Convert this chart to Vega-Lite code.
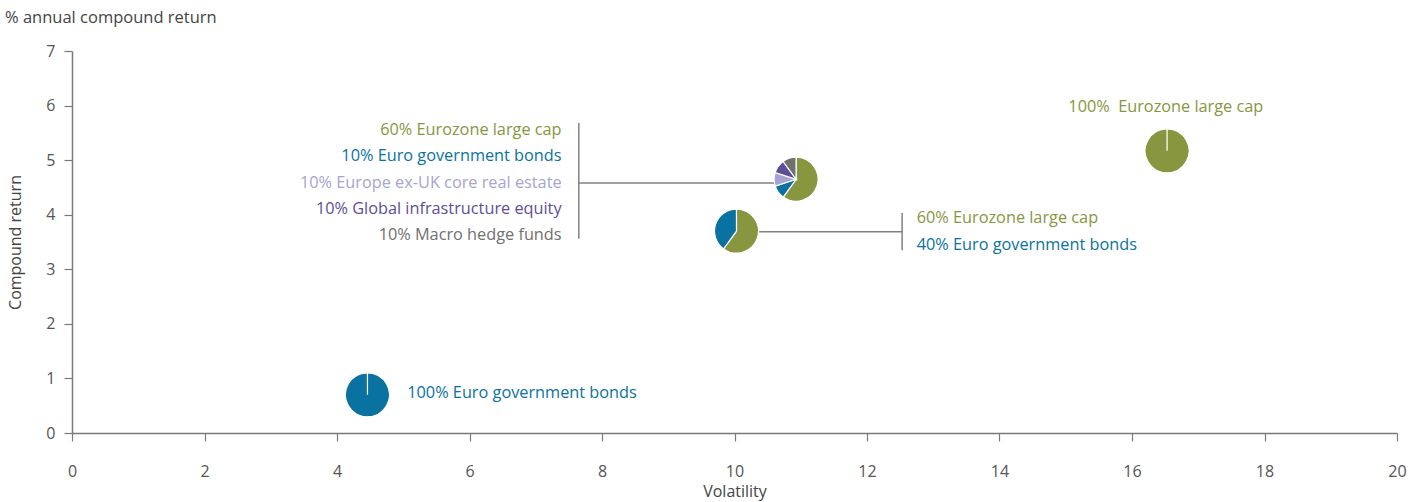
{
  "$schema": "https://vega.github.io/schema/vega-lite/v6.json",
  "width": 1325,
  "height": 382,
  "autosize": "none",
  "padding": {"left": 72, "top": 51, "right": 26, "bottom": 69},
  "background": "white",
  "config": {
    "view": {"stroke": null},
    "font": "Open Sans",
    "axis": {"grid": false, "labelFlush": false, "domainColor": "#7a7a7a", "domainWidth": 1.5, "tickColor": "#7a7a7a", "tickWidth": 1.2, "tickSize": 8, "labelColor": "#555555", "labelFontSize": 16, "labelFont": "Open Sans", "titleFont": "Open Sans", "titleFontSize": 16, "titleFontWeight": "normal", "titleColor": "#444444", "format": "d"}
  },
  "title": {"text": "% annual compound return", "anchor": "start", "frame": "group", "dx": -67, "offset": 4, "baseline": "alphabetic", "fontSize": 16.5, "fontWeight": "normal", "color": "#444444", "font": "Open Sans"},
  "layer": [
    {
      "data": {"values": [
        {"x": 7.65, "x2": 10.93, "y": 4.58, "y2": 4.58},
        {"x": 7.65, "x2": 7.65, "y": 5.68, "y2": 3.56},
        {"x": 10.03, "x2": 12.53, "y": 3.69, "y2": 3.69},
        {"x": 12.53, "x2": 12.53, "y": 4.03, "y2": 3.35}
      ]},
      "mark": {"type": "rule", "color": "#808080", "strokeWidth": 1.5},
      "encoding": {
        "x": {"field": "x", "type": "quantitative", "scale": {"domain": [0, 20], "nice": false}, "axis": {"values": [0,2,4,6,8,10,12,14,16,18,20], "title": "Volatility", "labelPadding": 22, "titleY": 58, "titleBaseline": "middle"}},
        "x2": {"field": "x2"},
        "y": {"field": "y", "type": "quantitative", "scale": {"domain": [0, 7], "nice": false}, "axis": {"values": [0,1,2,3,4,5,6,7], "title": "Compound return", "labelPadding": 9, "titleX": -57, "titleY": 191, "titleBaseline": "middle", "titleAlign": "center", "titleAngle": -90}},
        "y2": {"field": "y2"}
      }
    },
    {
      "data": {"values": [
        {"pie": "A", "ord": 1, "asset": "Euro government bonds", "share": 100, "vol": 4.46, "ret": 0.70},
        {"pie": "B", "ord": 1, "asset": "Eurozone large cap", "share": 100, "vol": 16.53, "ret": 5.17},
        {"pie": "C", "ord": 1, "asset": "Eurozone large cap", "share": 60, "vol": 10.03, "ret": 3.70},
        {"pie": "C", "ord": 2, "asset": "Euro government bonds", "share": 40, "vol": 10.03, "ret": 3.70},
        {"pie": "D", "ord": 1, "asset": "Eurozone large cap", "share": 60, "vol": 10.93, "ret": 4.65},
        {"pie": "D", "ord": 2, "asset": "Euro government bonds", "share": 10, "vol": 10.93, "ret": 4.65},
        {"pie": "D", "ord": 3, "asset": "Europe ex-UK core real estate", "share": 10, "vol": 10.93, "ret": 4.65},
        {"pie": "D", "ord": 4, "asset": "Global infrastructure equity", "share": 10, "vol": 10.93, "ret": 4.65},
        {"pie": "D", "ord": 5, "asset": "Macro hedge funds", "share": 10, "vol": 10.93, "ret": 4.65}
      ]},
      "transform": [
        {"stack": "share", "groupby": ["pie"], "sort": [{"field": "ord", "order": "ascending"}], "as": ["s0", "s1"]}
      ],
      "mark": {"type": "arc", "radius": 22, "stroke": "white", "strokeWidth": 1.2},
      "encoding": {
        "x": {"field": "vol", "type": "quantitative"},
        "y": {"field": "ret", "type": "quantitative"},
        "theta": {"field": "s0", "type": "quantitative", "scale": {"domain": [0, 100], "range": [0, 6.28]}},
        "theta2": {"field": "s1"},
        "color": {"field": "asset", "type": "nominal", "legend": null, "scale": {"domain": ["Eurozone large cap", "Euro government bonds", "Europe ex-UK core real estate", "Global infrastructure equity", "Macro hedge funds"], "range": ["#87963f", "#0a72a0", "#a7a3d4", "#5e4e98", "#707070"]}}
      }
    },
    {
      "data": {"values": [
        {"label": "60% Eurozone large cap", "asset": "Eurozone large cap", "vol": 7.39, "ret": 5.55},
        {"label": "10% Euro government bonds", "asset": "Euro government bonds", "vol": 7.39, "ret": 5.07},
        {"label": "10% Europe ex-UK core real estate", "asset": "Europe ex-UK core real estate", "vol": 7.39, "ret": 4.59},
        {"label": "10% Global infrastructure equity", "asset": "Global infrastructure equity", "vol": 7.39, "ret": 4.11},
        {"label": "10% Macro hedge funds", "asset": "Macro hedge funds", "vol": 7.39, "ret": 3.63}
      ]},
      "mark": {"type": "text", "align": "right", "baseline": "middle", "fontSize": 16.3, "font": "Open Sans"},
      "encoding": {
        "x": {"field": "vol", "type": "quantitative"},
        "y": {"field": "ret", "type": "quantitative"},
        "text": {"field": "label"},
        "color": {"field": "asset", "type": "nominal", "legend": null}
      }
    },
    {
      "data": {"values": [
        {"label": "60% Eurozone large cap", "asset": "Eurozone large cap", "vol": 12.75, "ret": 3.94},
        {"label": "40% Euro government bonds", "asset": "Euro government bonds", "vol": 12.75, "ret": 3.45},
        {"label": "100% Euro government bonds", "asset": "Euro government bonds", "vol": 5.06, "ret": 0.73}
      ]},
      "mark": {"type": "text", "align": "left", "baseline": "middle", "fontSize": 16.3, "font": "Open Sans"},
      "encoding": {
        "x": {"field": "vol", "type": "quantitative"},
        "y": {"field": "ret", "type": "quantitative"},
        "text": {"field": "label"},
        "color": {"field": "asset", "type": "nominal", "legend": null}
      }
    },
    {
      "data": {"values": [
        {"label": "100%\u00a0 Eurozone large cap", "asset": "Eurozone large cap", "vol": 16.51, "ret": 5.98}
      ]},
      "mark": {"type": "text", "align": "center", "baseline": "middle", "fontSize": 16.3, "font": "Open Sans"},
      "encoding": {
        "x": {"field": "vol", "type": "quantitative"},
        "y": {"field": "ret", "type": "quantitative"},
        "text": {"field": "label"},
        "color": {"field": "asset", "type": "nominal", "legend": null}
      }
    }
  ]
}
